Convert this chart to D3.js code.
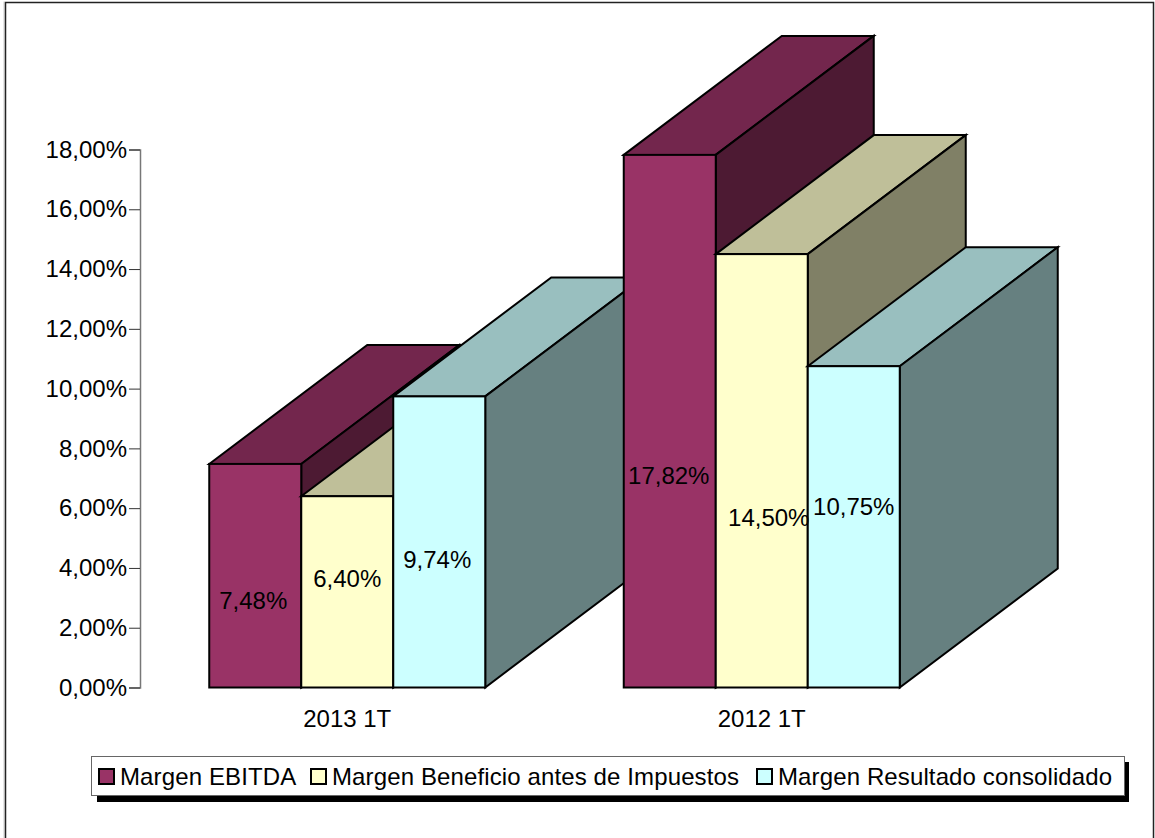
<!DOCTYPE html>
<html>
<head>
<meta charset="utf-8">
<script src="https://d3js.org/d3.v7.min.js"></script>
<style>
    html, body { margin: 0; padding: 0; background: #fff; }
    svg { display: block; }
    text { font-family: "Liberation Sans", Arial, sans-serif; fill: #000; }
</style>
</head>
<body>
<script>
//values
var categories = ["2013 1T", "2012 1T"];
var seriesNames = ["Margen EBITDA", "Margen Beneficio antes de Impuestos", "Margen Resultado consolidado"];
var ebitda = [7.48, 17.82];
var beneficio = [6.40, 14.50];
var resultado = [9.74, 10.75];
var tickValues = [0, 2, 4, 6, 8, 10, 12, 14, 16, 18];

//front, top and side colours for each series
var frontColors = ["#993366", "#ffffcc", "#ccffff"];
var topColors = ["#73264d", "#bfbf99", "#99bfbf"];
var sideColors = ["#4d1a33", "#808066", "#668080"];

//the labels in the original don't sit on the bar centres, so nudge them by hand
var labelNudge = [
    [[-2, 25], [0, -13], [-2, 18]],
    [[-1, 54], [7, 47], [0, -20]]
];

var width = 1155, height = 838;
var depthX = 158, depthY = -119;
var fontSize = "24px";

var svg = d3.select("body").append("svg")
    .attr("width", width)
    .attr("height", height);

//outer frame, the original has no bottom edge
svg.append("path")
    .attr("d", "M4,838V1.5")
    .attr("fill", "none")
    .attr("stroke", "#ccc");
svg.append("path")
    .attr("d", "M5.5,838V2.5H1153.5V838")
    .attr("fill", "none")
    .attr("stroke", "#222")
    .attr("stroke-width", 1.5);

var y = d3.scaleLinear().domain([0, 18]).range([687.5, 149.5]);
var x0 = d3.scaleBand().domain(categories).range([140, 969]);
var x1 = d3.scaleBand().domain(d3.range(seriesNames.length)).range([-138, 138]);

var yAxis = d3.axisLeft(y)
    .tickValues(tickValues)
    .tickSize(11)
    .tickPadding(2)
    .tickFormat(function(d){ return d.toFixed(2).replace(".", ",") + "%"; });

var axisG = svg.append("g")
    .attr("transform", "translate(140,0)")
    .call(yAxis);
axisG.select(".domain").attr("stroke", "#777").attr("stroke-width", 1.5);
axisG.selectAll(".tick line").attr("stroke", "#333");
axisG.selectAll("text").style("font-size", fontSize).attr("fill", "#000").attr("font-family", null);

var bars = [];
[ebitda, beneficio, resultado].forEach(function(values, s){
    values.forEach(function(v, c){
        bars.push({series: s, cat: c, value: v});
    });
});
//painter's order, left group first and left to right inside it
bars.sort(function(a, b){ return a.cat - b.cat || a.series - b.series; });

function poly(points){
    return "M" + points.map(function(p){ return p.join(","); }).join("L") + "Z";
}

var barG = svg.selectAll(".bar")
    .data(bars)
    .enter()
    .append("g")
    .attr("class", "bar")
    .attr("stroke", "#000")
    .attr("stroke-width", 2)
    .attr("stroke-linejoin", "miter");

barG.each(function(d){
    var g = d3.select(this);
    var left = x0(categories[d.cat]) + x0.bandwidth() / 2 + x1(d.series);
    var right = left + x1.bandwidth();
    var top = y(d.value), base = y(0);

    g.append("path")
        .attr("fill", topColors[d.series])
        .attr("d", poly([[left, top], [left + depthX, top + depthY], [right + depthX, top + depthY], [right, top]]));
    g.append("path")
        .attr("fill", sideColors[d.series])
        .attr("d", poly([[right, top], [right + depthX, top + depthY], [right + depthX, base + depthY], [right, base]]));
    g.append("rect")
        .attr("x", left).attr("y", top)
        .attr("width", x1.bandwidth()).attr("height", base - top)
        .attr("fill", frontColors[d.series]);
});

//data labels go on top of every bar
svg.selectAll(".barLabel")
    .data(bars)
    .enter()
    .append("text")
    .attr("class", "barLabel")
    .attr("text-anchor", "middle")
    .attr("dy", "0.35em")
    .style("font-size", fontSize)
    .attr("x", function(d){
        return x0(categories[d.cat]) + x0.bandwidth() / 2 + x1(d.series) + x1.bandwidth() / 2 + labelNudge[d.cat][d.series][0];
    })
    .attr("y", function(d){
        return (y(d.value) + y(0)) / 2 + labelNudge[d.cat][d.series][1];
    })
    .text(function(d){ return d.value.toFixed(2).replace(".", ",") + "%"; });

//category labels
svg.selectAll(".catLabel")
    .data(categories)
    .enter()
    .append("text")
    .attr("class", "catLabel")
    .attr("text-anchor", "middle")
    .attr("x", function(d){ return x0(d) + x0.bandwidth() / 2; })
    .attr("y", 727)
    .style("font-size", fontSize)
    .text(function(d){ return d; });

//legend with its hard shadow
svg.append("rect")
    .attr("x", 97).attr("y", 762)
    .attr("width", 1032).attr("height", 40)
    .attr("fill", "#000");
svg.append("rect")
    .attr("x", 91.5).attr("y", 756.5)
    .attr("width", 1033).attr("height", 39)
    .attr("fill", "#fff")
    .attr("stroke", "#666");

var legendX = [99, 311, 757];
var legend = svg.selectAll(".legendItem")
    .data(seriesNames)
    .enter()
    .append("g")
    .attr("class", "legendItem")
    .attr("transform", function(d, i){ return "translate(" + legendX[i] + ",769)"; });

legend.append("rect")
    .attr("width", 15).attr("height", 15)
    .attr("fill", function(d, i){ return frontColors[i]; })
    .attr("stroke", "#000")
    .attr("stroke-width", 2);

legend.append("text")
    .attr("x", 21)
    .attr("y", 16)
    .style("font-size", fontSize)
    .style("letter-spacing", "0.12px")
    .text(function(d){ return d; });
</script>
</body>
</html>
